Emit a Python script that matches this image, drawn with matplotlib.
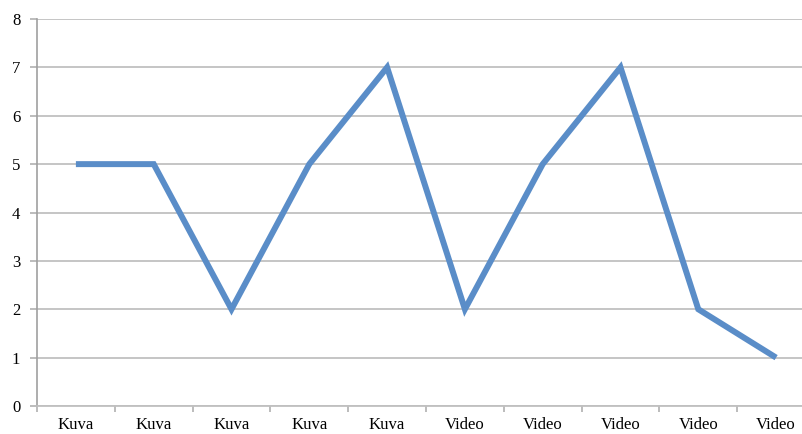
import matplotlib.pyplot as plt
import numpy as np

labels = ["Kuva", "Kuva", "Kuva", "Kuva", "Kuva",
          "Video", "Video", "Video", "Video", "Video"]
values = [5, 5, 2, 5, 7, 2, 5, 7, 2, 1]

plt.rcParams["font.family"] = ["Liberation Serif", "DejaVu Serif"]

fig = plt.figure(figsize=(8.03, 4.34), dpi=100)
# right edge of plot area runs past the image, as in the reference
ax = fig.add_axes([37 / 803, 28 / 434, 778 / 803, 387 / 434])

x = np.arange(len(values))
ax.plot(x, values, color="#5A8DC8", linewidth=4.3, solid_joinstyle="miter",
        solid_capstyle="butt", zorder=3)

ax.set_xlim(-0.5, len(values) - 0.5)
ax.set_ylim(0, 8)
ax.set_yticks(range(0, 9))
ax.yaxis.grid(True, color="#C0C0C0", linewidth=1.3)
ax.set_axisbelow(True)

ax.set_xticks(x)
ax.set_xticklabels(labels)
ax.set_xticks(np.arange(-0.5, len(values)), minor=True)
ax.tick_params(axis="x", which="major", length=0, labelsize=12, pad=8)
ax.tick_params(axis="x", which="minor", length=4, color="#B0B0B0", width=1.2)
ax.tick_params(axis="y", length=5, color="#B0B0B0", width=1.2, labelsize=12, pad=7)

for s in ["top", "right"]:
    ax.spines[s].set_visible(False)
ax.spines["left"].set_color("#A0A0A0")
ax.spines["bottom"].set_color("#C0C0C0")
ax.spines["left"].set_linewidth(1.2)
ax.spines["bottom"].set_linewidth(1.3)

fig.savefig("out.png", dpi=100)
